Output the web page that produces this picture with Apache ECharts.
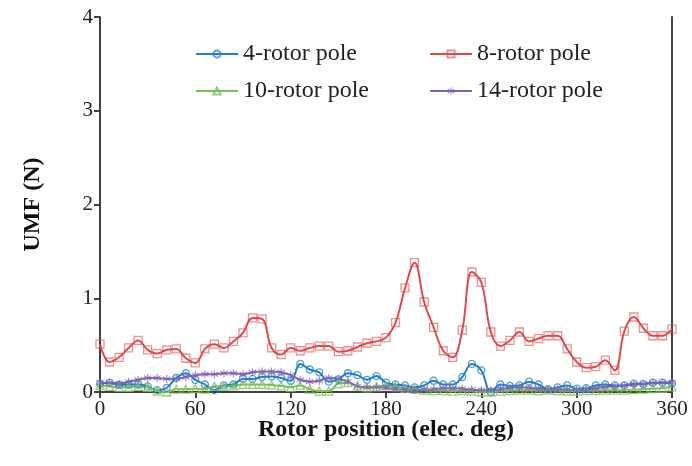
<!DOCTYPE html>
<html>
<head>
<meta charset="utf-8">
<script src="https://cdn.jsdelivr.net/npm/echarts@6/dist/echarts.min.js"></script>
<style>
  html, body { margin: 0; padding: 0; background: #fff; }
  #chart { width: 692px; height: 466px; }
</style>
</head>
<body>
<div id="chart"></div>
<script>
// Rotor position samples, every 6 electrical degrees
const positions = [];
for (let d = 0; d <= 360; d += 6) positions.push(d);

const xTicks = [0, 60, 120, 180, 240, 300, 360];
const yTicks = [0, 1, 2, 3, 4];

const seriesNames = ['4-rotor pole', '8-rotor pole', '10-rotor pole', '14-rotor pole'];

const umf4 = [0.09, 0.10, 0.075, 0.08, 0.08, 0.06, 0.02, 0.045, 0.15, 0.20,
  0.13, 0.08, 0.02, 0.07, 0.08, 0.14, 0.14, 0.16, 0.165, 0.15,
  0.12, 0.30, 0.24, 0.21, 0.11, 0.135, 0.20, 0.18, 0.13, 0.17,
  0.10, 0.08, 0.07, 0.05, 0.07, 0.12, 0.08, 0.08, 0.16, 0.30,
  0.23, 0.0, 0.08, 0.065, 0.07, 0.11, 0.08, 0.03, 0.05, 0.07,
  0.035, 0.04, 0.07, 0.08, 0.07, 0.07, 0.09, 0.085, 0.10, 0.10, 0.09];

const umf8 = [0.51, 0.32, 0.37, 0.47, 0.55, 0.45, 0.41, 0.45, 0.46, 0.36,
  0.31, 0.46, 0.51, 0.47, 0.54, 0.63, 0.79, 0.78, 0.47, 0.40,
  0.47, 0.44, 0.47, 0.49, 0.49, 0.43, 0.44, 0.48, 0.52, 0.54,
  0.58, 0.74, 1.11, 1.38, 0.96, 0.69, 0.44, 0.37, 0.66, 1.28,
  1.17, 0.64, 0.49, 0.55, 0.64, 0.54, 0.57, 0.60, 0.60, 0.46,
  0.32, 0.26, 0.27, 0.34, 0.23, 0.65, 0.80, 0.68, 0.60, 0.60, 0.67];

const umf10 = [0.07, 0.06, 0.05, 0.05, 0.06, 0.05, 0.01, 0.0, 0.03, 0.03,
  0.035, 0.03, 0.06, 0.06, 0.065, 0.08, 0.08, 0.08, 0.075, 0.065,
  0.05, 0.07, 0.03, 0.01, 0.01, 0.09, 0.10, 0.065, 0.045, 0.055,
  0.07, 0.055, 0.04, 0.03, 0.02, 0.015, 0.015, 0.01, 0.015, 0.01,
  0.0, 0.0, 0.01, 0.015, 0.02, 0.02, 0.015, 0.02, 0.015, 0.01,
  0.01, 0.015, 0.015, 0.02, 0.02, 0.02, 0.025, 0.03, 0.035, 0.04, 0.055];

const umf14 = [0.10, 0.10, 0.09, 0.11, 0.13, 0.15, 0.15, 0.14, 0.14, 0.16,
  0.18, 0.19, 0.19, 0.20, 0.20, 0.19, 0.21, 0.22, 0.22, 0.21,
  0.18, 0.13, 0.11, 0.12, 0.15, 0.14, 0.11, 0.06, 0.05, 0.05,
  0.045, 0.03, 0.025, 0.02, 0.025, 0.03, 0.04, 0.04, 0.035, 0.025,
  0.02, 0.02, 0.03, 0.045, 0.05, 0.045, 0.035, 0.03, 0.03, 0.025,
  0.015, 0.025, 0.04, 0.055, 0.06, 0.07, 0.08, 0.085, 0.095, 0.10, 0.105];

// Asterisk marker built from three crossing bars
function asteriskPath() {
  const L = 10, W = 1.3;
  let p = 'path://';
  [90, 35, -35].forEach(a => {
    const t = a * Math.PI / 180;
    const c = Math.cos(t), s = Math.sin(t);
    const pts = [
      [ L * c - W * -s,  L * s - W * c],
      [ L * c + W * -s,  L * s + W * c],
      [-L * c + W * -s, -L * s + W * c],
      [-L * c - W * -s, -L * s - W * c]
    ].map(q => q[0].toFixed(2) + ',' + q[1].toFixed(2));
    p += 'M' + pts[0] + ' L' + pts[1] + ' L' + pts[2] + ' L' + pts[3] + ' Z ';
  });
  return p.trim();
}

const serif = '"Liberation Serif", "Times New Roman", serif';

function makeSeries(name, values, lineColor, markColor, symbol, size, filled) {
  return {
    name: name,
    type: 'line',
    data: positions.map((d, i) => [d, values[i]]),
    smooth: 0.4,
    symbol: symbol,
    symbolSize: size,
    showAllSymbol: true,
    lineStyle: { color: lineColor, width: 2 },
    itemStyle: filled
      ? { color: markColor, borderWidth: 0 }
      : { color: 'rgba(255,255,255,0)', borderColor: markColor, borderWidth: 1.3 },
    emphasis: { disabled: true },
    z: 2
  };
}

const chart = echarts.init(document.getElementById('chart'), null, { renderer: 'canvas' });

const legendBase = {
  itemWidth: 42,
  itemHeight: 9,
  itemGap: 4,
  textStyle: { fontFamily: serif, fontSize: 24, color: '#222' },
  selectedMode: false
};

chart.setOption({
  animation: false,
  backgroundColor: '#fff',
  grid: { left: 100, right: 20, top: 17, bottom: 74 },
  legend: [
    Object.assign({}, legendBase, { data: [seriesNames[0]], left: 190, top: 37 }),
    Object.assign({}, legendBase, { data: [seriesNames[1]], left: 424, top: 37 }),
    Object.assign({}, legendBase, { data: [seriesNames[2]], left: 190, top: 74 }),
    Object.assign({}, legendBase, { data: [seriesNames[3]], left: 424, top: 74 })
  ],
  xAxis: {
    type: 'value',
    min: xTicks[0],
    max: xTicks[xTicks.length - 1],
    interval: 60,
    name: 'Rotor position (elec. deg)',
    nameLocation: 'middle',
    nameGap: 26,
    nameMoveOverlap: false,
    nameTextStyle: { fontFamily: serif, fontSize: 24, fontWeight: 'bold', color: '#111' },
    axisLine: { lineStyle: { color: '#404040', width: 2 } },
    axisTick: { show: true, inside: false, length: 6, lineStyle: { color: '#404040', width: 2 } },
    axisLabel: { fontFamily: serif, fontSize: 21, color: '#222', margin: 7 },
    splitLine: { show: false }
  },
  yAxis: [{
    type: 'value',
    min: yTicks[0],
    max: yTicks[yTicks.length - 1],
    interval: 1,
    name: 'UMF (N)',
    nameLocation: 'middle',
    nameGap: 55,
    nameMoveOverlap: false,
    nameRotate: 90,
    nameTextStyle: { fontFamily: serif, fontSize: 24, fontWeight: 'bold', color: '#111' },
    axisLine: { show: true, lineStyle: { color: '#404040', width: 2 } },
    axisTick: { show: true, inside: false, length: 6, lineStyle: { color: '#404040', width: 2 } },
    axisLabel: { fontFamily: serif, fontSize: 21, color: '#222', margin: 7 },
    splitLine: { show: false }
  }, {
    type: 'value',
    min: yTicks[0],
    max: yTicks[yTicks.length - 1],
    interval: 1,
    position: 'right',
    axisLine: { show: true, lineStyle: { color: '#404040', width: 2 } },
    axisTick: { show: false },
    axisLabel: { show: false },
    splitLine: { show: false }
  }],
  series: [
    makeSeries(seriesNames[0], umf4, '#1f7fc8', 'rgba(31,127,200,0.75)', 'circle', 7, false),
    makeSeries(seriesNames[1], umf8, '#e04a4a', 'rgba(224,74,74,0.6)', 'rect', 8, false),
    makeSeries(seriesNames[2], umf10, '#7cbf58', 'rgba(124,191,88,0.8)', 'triangle', 8, false),
    makeSeries(seriesNames[3], umf14, '#8261b4', 'rgba(130,97,180,0.75)', asteriskPath(), 8, true)
  ]
});
</script>
</body>
</html>
